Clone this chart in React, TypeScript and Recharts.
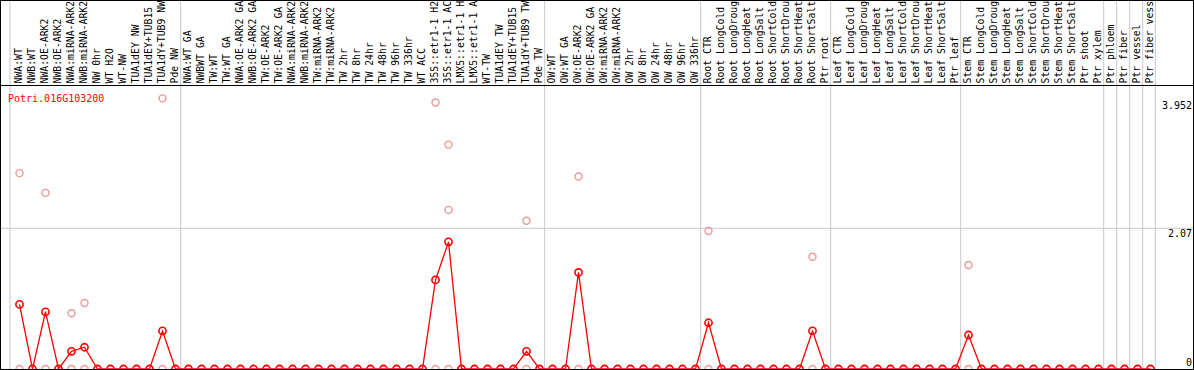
import React from 'react';
import { ComposedChart, Line, XAxis, YAxis, ReferenceLine } from 'recharts';

// header labels as they appear (truncated at the top edge of the header)
const categories: string[] = [
  'NWA:WT', 'NWB:WT', 'NWA:OE-ARK2', 'NWB:OE-ARK2', 'NWA:miRNA-ARK2', 'NWB:miRNA-ARK2', 'NW 0hr', 'WT H2O', 'WT-NW',
  'TUA1dEY NW', 'TUA1dEY+TUB15', 'TUA1dY+TUB9 NW', 'Pde NW',
  'NWA:WT GA', 'NWBWT GA', 'TW:WT', 'TW:WT GA', 'NWA:OE-ARK2 GA', 'NWB:OE-ARK2 GA', 'TW:OE-ARK2', 'TW:OE-ARK2 GA',
  'NWA:miRNA-ARK2', 'NWB:miRNA-ARK2', 'TW:miRNA-ARK2', 'TW:miRNA-ARK2', 'TW 2hr', 'TW 8hr', 'TW 24hr', 'TW 48hr',
  'TW 96hr', 'TW 336hr', 'WT ACC', '35S::etr1-1 H2', '35S::etr1-1 AC', 'LMX5::etr1-1 H', 'LMX5::etr1-1 A',
  'WT-TW', 'TUA1dEY TW', 'TUA1dEY+TUB15', 'TUA1dY+TUB9 TW', 'Pde TW',
  'OW:WT', 'OW:WT GA', 'OW:OE-ARK2', 'OW:OE-ARK2 GA', 'OW:miRNA-ARK2', 'OW:miRNA-ARK2', 'OW 2hr', 'OW 8hr',
  'OW 24hr', 'OW 48hr', 'OW 96hr', 'OW 336hr',
  'Root CTR', 'Root LongCold', 'Root LongDroug', 'Root LongHeat', 'Root LongSalt', 'Root ShortCold',
  'Root ShortDrou', 'Root ShortHeat', 'Root ShortSalt', 'Ptr root',
  'Leaf CTR', 'Leaf LongCold', 'Leaf LongDroug', 'Leaf LongHeat', 'Leaf LongSalt', 'Leaf ShortCold',
  'Leaf ShortDrou', 'Leaf ShortHeat', 'Leaf ShortSalt', 'Ptr leaf',
  'Stem CTR', 'Stem LongCold', 'Stem LongDroug', 'Stem LongHeat', 'Stem LongSalt', 'Stem ShortCold',
  'Stem ShortDrou', 'Stem ShortHeat', 'Stem ShortSalt', 'Ptr shoot', 'Ptr xylem',
  'Ptr phloem', 'Ptr fiber', 'Ptr vessel', 'Ptr fiber vess',
];

// mean expression (red line)
const meanValues: number[] = [
  0.95, 0, 0.84, 0, 0.26, 0.32, 0, 0, 0, 0, 0, 0.56, 0,
  0, 0, 0, 0, 0, 0, 0, 0, 0, 0, 0, 0, 0, 0, 0, 0, 0, 0, 0, 1.31, 1.87, 0, 0, 0, 0, 0, 0.26, 0,
  0, 0, 1.42, 0, 0, 0, 0, 0, 0, 0, 0, 0,
  0.68, 0, 0, 0, 0, 0, 0, 0, 0.56, 0,
  0, 0, 0, 0, 0, 0, 0, 0, 0, 0,
  0.5, 0, 0, 0, 0, 0, 0, 0, 0, 0, 0,
  0, 0, 0, 0,
];

// replicate values (pale circles)
const replicateHigh: (number | null)[] = [
  2.88, null, 2.59, null, 0.82, 0.97, null, null, null, null, null, 3.98, null,
  null, null, null, null, null, null, null, null, null, null, null, null, null, null, null, null, null, null, null,
  3.92, 3.3, null, null, null, null, null, 2.18, null,
  null, null, 2.83, null, null, null, null, null, null, null, null, null,
  2.03, null, null, null, null, null, null, null, 1.65, null,
  null, null, null, null, null, null, null, null, null, null,
  1.53, null, null, null, null, null, null, null, null, null, null,
  null, null, null, null,
];

const replicateMid: (number | null)[] = [
  null, null, null, null, null, null, null, null, null, null, null, null, null,
  null, null, null, null, null, null, null, null, null, null, null, null, null, null, null, null, null, null, null,
  null, 2.34, null, null, null, null, null, null, null,
  null, null, null, null, null, null, null, null, null, null, null, null,
  null, null, null, null, null, null, null, null, null, null,
  null, null, null, null, null, null, null, null, null, null,
  null, null, null, null, null, null, null, null, null, null, null,
  null, null, null, null,
];

const replicateLow: number[] = [
  0, 0, 0, 0, 0, 0, 0, 0, 0, 0, 0, 0, 0,
  0, 0, 0, 0, 0, 0, 0, 0, 0, 0, 0, 0, 0, 0, 0, 0, 0, 0, 0, 0, 0, 0, 0, 0, 0, 0, 0, 0,
  0, 0, 0, 0, 0, 0, 0, 0, 0, 0, 0, 0,
  0, 0, 0, 0, 0, 0, 0, 0, 0, 0,
  0, 0, 0, 0, 0, 0, 0, 0, 0, 0,
  0, 0, 0, 0, 0, 0, 0, 0, 0, 0, 0,
  0, 0, 0, 0,
];

// group separators, in category-index units
const groupBoundaries: number[] = [-0.73, 12.4, 40.4, 52.4, 62.4, 72.4, 83.4, 84.4, 85.4, 86.4, 87.37];
const yTickValues: number[] = [0, 2.07, 3.952];
const yTickLabels: string[] = ['0', '2.07', '3.952'];
const geneName = 'Potri.016G103200';

const X_DOMAIN: [number, number] = [-1.4231, 90.269];
const Y_MAX = 4.169;
const Y_HEADER_TOP = 5.426;

const FONT = "'DejaVu Sans Mono', monospace";
const RED = '#ff0000';
const PALE = '#ea9898';
const GRID = '#c8c8c8';

const rows = categories.map((c, i) => ({
  idx: i,
  name: c,
  mean: meanValues[i],
  hi: replicateHigh[i],
  mid: replicateMid[i],
  lo: replicateLow[i],
}));

const xTicks = categories.map((_, i) => i);

const HeaderTick = (props: any) => {
  const { x, payload } = props;
  const label = categories[payload.value];
  return (
    <text
      transform={`translate(${x + 2.5},83.5) rotate(-90)`}
      fontFamily={FONT}
      fontSize={9.8}
      fill="#000"
      textAnchor="start"
    >
      {label}
    </text>
  );
};

const ValueTick = (props: any) => {
  const { y, payload } = props;
  const i = yTickValues.indexOf(payload.value);
  const dy = payload.value === 0 ? -3 : 9;
  return (
    <text x={1192} y={y + dy} fontFamily={FONT} fontSize={10} fill="#000" textAnchor="end">
      {i >= 0 ? yTickLabels[i] : String(payload.value)}
    </text>
  );
};

export default function App() {
  return (
    <div style={{ position: 'absolute', left: 0, top: 0, width: 1194, height: 370, background: '#fff' }}>
      <ComposedChart width={1194} height={370} data={rows} margin={{ top: 0, right: 1, bottom: 1, left: 1 }}>
        <XAxis
          dataKey="idx"
          type="number"
          orientation="top"
          domain={X_DOMAIN}
          allowDataOverflow
          ticks={xTicks}
          interval={0}
          height={85.5}
          tick={<HeaderTick />}
          tickLine={false}
          axisLine={{ stroke: '#000', strokeWidth: 1 }}
        />
        <YAxis
          type="number"
          orientation="right"
          mirror
          width={40}
          domain={[0, Y_MAX]}
          allowDataOverflow
          ticks={yTickValues}
          interval={0}
          tick={<ValueTick />}
          tickLine={false}
          axisLine={false}
        />
        <ReferenceLine y={2.07} stroke={GRID} strokeWidth={1} />
        {groupBoundaries.map((b) => (
          <ReferenceLine
            key={b}
            ifOverflow="visible"
            segment={[{ x: b, y: 0 }, { x: b, y: Y_HEADER_TOP }]}
            stroke={GRID}
            strokeWidth={1}
          />
        ))}
        <Line
          dataKey="lo"
          stroke="none"
          dot={{ r: 3.5, stroke: PALE, strokeWidth: 1.4, fill: 'none' }}
          activeDot={false}
          isAnimationActive={false}
        />
        <Line
          dataKey="hi"
          stroke="none"
          dot={{ r: 3.5, stroke: PALE, strokeWidth: 1.4, fill: 'none' }}
          activeDot={false}
          isAnimationActive={false}
        />
        <Line
          dataKey="mid"
          stroke="none"
          dot={{ r: 3.5, stroke: PALE, strokeWidth: 1.4, fill: 'none' }}
          activeDot={false}
          isAnimationActive={false}
        />
        <Line
          dataKey="mean"
          name={geneName}
          stroke={RED}
          strokeWidth={1.3}
          dot={{ r: 3.6, stroke: RED, strokeWidth: 1.6, fill: 'none' }}
          activeDot={false}
          isAnimationActive={false}
        />
      </ComposedChart>
      <div
        style={{
          position: 'absolute',
          left: 8,
          top: 93.5,
          color: RED,
          fontFamily: FONT,
          fontSize: 10,
          lineHeight: '10px',
          whiteSpace: 'nowrap',
        }}
      >
        {geneName}
      </div>
      <div
        style={{
          position: 'absolute',
          left: 0,
          top: 0,
          width: 1194,
          height: 370,
          boxSizing: 'border-box',
          border: '1px solid #000',
          pointerEvents: 'none',
        }}
      />
    </div>
  );
}
